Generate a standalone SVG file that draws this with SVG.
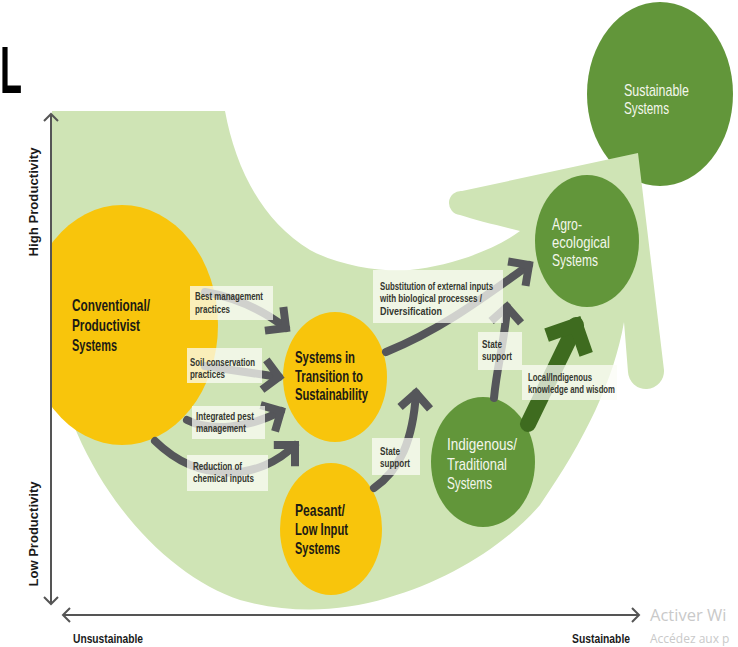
<svg xmlns="http://www.w3.org/2000/svg" width="738" height="647" viewBox="0 0 738 647">
<style>
.t{font-family:"Liberation Sans Narrow","Liberation Sans",Arial,sans-serif;}
.nd{font-size:17px;font-weight:bold;fill:#1c1a14;}
.nl{font-size:17px;font-weight:normal;fill:#f4f6ec;}
.lb{font-size:11.5px;font-weight:bold;fill:#34362f;}
.ax{font-size:13px;font-weight:bold;fill:#1a1a1a;}
.box{fill:#fbfcf5;opacity:0.74;}
.yel{fill:#f8c50c;}
.grn{fill:#62963a;}
.arr{fill:none;stroke:#55565a;stroke-width:8;stroke-linecap:round;}
.axl{fill:none;stroke:#555;stroke-width:2;}
.wm{font-family:"Open Sans","Noto Sans",sans-serif;fill:#c9c9c9;}
</style>
<defs>
<marker id="hd" viewBox="-24 -24 48 48" markerWidth="48" markerHeight="48" markerUnits="userSpaceOnUse" refX="0" refY="0" orient="auto" overflow="visible">
<path d="M-15,-15 L0,0 L-15,15" fill="none" stroke="#55565a" stroke-width="8"/>
</marker>
<marker id="hg" viewBox="-36 -36 72 72" markerWidth="72" markerHeight="72" markerUnits="userSpaceOnUse" refX="0" refY="0" orient="auto" overflow="visible">
<path d="M-22,-22 L0,0 L-22,22" fill="none" stroke="#3e6b1f" stroke-width="14"/>
</marker>
<marker id="ha" viewBox="-10 -10 20 20" markerWidth="20" markerHeight="20" markerUnits="userSpaceOnUse" refX="0" refY="0" orient="auto-start-reverse" overflow="visible">
<path d="M-7,-7 L0,0 L-7,7" fill="none" stroke="#555" stroke-width="2"/>
</marker>
<clipPath id="clipL"><rect x="52" y="0" width="700" height="647"/></clipPath>
</defs>
<rect width="738" height="647" fill="#ffffff"/>

<text class="t" x="0" y="93" font-size="67" font-weight="bold" fill="#000" textLength="22" lengthAdjust="spacingAndGlyphs">L</text>

<g id="sustainable">
<ellipse class="grn" cx="660" cy="94" rx="73" ry="92"/>
<text class="t nl" x="624" y="96" textLength="65" lengthAdjust="spacingAndGlyphs">Sustainable</text>
<text class="t nl" x="624" y="114" textLength="45" lengthAdjust="spacingAndGlyphs">Systems</text>
</g>

<g id="background">
<path fill="#cfe4b5" d="M52,111 L225,111 C235,165 260,220 310,250 C340,266 380,272 410,270 C450,266 495,250 520,231 C500,226 475,220 460,215 A12,12 0 0 1 462,191 L638,153 L664,370 A18,18 0 0 1 628,372 L624,322 C614,380 585,440 540,505 C505,545 450,580 387,598 C340,612 290,614 240,600 C180,580 115,520 77,433 C65,405 54,380 52,360 Z"/>
</g>

<g id="conventional">
<ellipse class="yel" cx="122" cy="325" rx="96" ry="120" clip-path="url(#clipL)"/>
<text class="t nd" x="72" y="311" textLength="78" lengthAdjust="spacingAndGlyphs">Conventional/</text>
<text class="t nd" x="72" y="331" textLength="68" lengthAdjust="spacingAndGlyphs">Productivist</text>
<text class="t nd" x="72" y="351" textLength="45" lengthAdjust="spacingAndGlyphs">Systems</text>
</g>

<g id="transition">
<ellipse class="yel" cx="335" cy="377" rx="52" ry="65"/>
<text class="t nd" x="295" y="363" textLength="60" lengthAdjust="spacingAndGlyphs">Systems in</text>
<text class="t nd" x="295" y="382" textLength="68" lengthAdjust="spacingAndGlyphs">Transition to</text>
<text class="t nd" x="295" y="400" textLength="73" lengthAdjust="spacingAndGlyphs">Sustainability</text>
</g>

<g id="peasant">
<ellipse class="yel" cx="331" cy="529" rx="51" ry="66"/>
<text class="t nd" x="295" y="516" textLength="50" lengthAdjust="spacingAndGlyphs">Peasant/</text>
<text class="t nd" x="295" y="535" textLength="53" lengthAdjust="spacingAndGlyphs">Low Input</text>
<text class="t nd" x="295" y="554" textLength="45" lengthAdjust="spacingAndGlyphs">Systems</text>
</g>

<g id="indigenous">
<ellipse class="grn" cx="483" cy="462" rx="52" ry="65"/>
<text class="t nl" x="447" y="450" textLength="70" lengthAdjust="spacingAndGlyphs">Indigenous/</text>
<text class="t nl" x="447" y="470" textLength="60" lengthAdjust="spacingAndGlyphs">Traditional</text>
<text class="t nl" x="447" y="489" textLength="45" lengthAdjust="spacingAndGlyphs">Systems</text>
</g>

<g id="agroecological">
<ellipse class="grn" cx="587" cy="241" rx="52" ry="66"/>
<text class="t nl" x="552" y="230" textLength="30" lengthAdjust="spacingAndGlyphs">Agro-</text>
<text class="t nl" x="552" y="248" textLength="58" lengthAdjust="spacingAndGlyphs">ecological</text>
<text class="t nl" x="552" y="266" textLength="46" lengthAdjust="spacingAndGlyphs">Systems</text>
</g>

<g id="connectors">
<path class="arr" d="M205,292 Q250,300 286,328" marker-end="url(#hd)"/>
<path class="arr" d="M205,366 Q245,372 279,377" marker-end="url(#hd)"/>
<path class="arr" d="M187,420 C210,432 250,428 281,411" marker-end="url(#hd)"/>
<path class="arr" d="M155,441 C200,485 260,480 295,445" marker-end="url(#hd)"/>
<path class="arr" d="M386,352 C440,330 480,300 529,265" marker-end="url(#hd)"/>
<path class="arr" d="M374,488 C400,470 413,440 416,393" marker-end="url(#hd)"/>
<path class="arr" d="M494,398 C497,365 505,340 507,307" marker-end="url(#hd)"/>
<path d="M528,424 L576,325" fill="none" stroke="#3e6b1f" stroke-width="16" stroke-linecap="round" marker-end="url(#hg)"/>
</g>

<g id="labels">
<g id="lbl-best"><rect class="box" x="190" y="286" width="83" height="34"/>
<text class="t lb" x="195" y="300" textLength="68" lengthAdjust="spacingAndGlyphs">Best management</text>
<text class="t lb" x="195" y="313" textLength="35" lengthAdjust="spacingAndGlyphs">practices</text></g>
<g id="lbl-soil"><rect class="box" x="187" y="348" width="75" height="35"/>
<text class="t lb" x="190" y="366" textLength="65" lengthAdjust="spacingAndGlyphs">Soil conservation</text>
<text class="t lb" x="190" y="378" textLength="35" lengthAdjust="spacingAndGlyphs">practices</text></g>
<g id="lbl-ipm"><rect class="box" x="192" y="406" width="73" height="33"/>
<text class="t lb" x="196" y="420" textLength="58" lengthAdjust="spacingAndGlyphs">Integrated pest</text>
<text class="t lb" x="196" y="432" textLength="50" lengthAdjust="spacingAndGlyphs">management</text></g>
<g id="lbl-red"><rect class="box" x="187" y="455" width="81" height="36"/>
<text class="t lb" x="193" y="470" textLength="49" lengthAdjust="spacingAndGlyphs">Reduction of</text>
<text class="t lb" x="193" y="482" textLength="61" lengthAdjust="spacingAndGlyphs">chemical inputs</text></g>
<g id="lbl-sub"><rect class="box" x="373" y="270" width="130" height="53"/>
<text class="t lb" x="380" y="290" textLength="113" lengthAdjust="spacingAndGlyphs">Substitution of external inputs</text>
<text class="t lb" x="380" y="302" textLength="102" lengthAdjust="spacingAndGlyphs">with biological processes /</text>
<text class="t lb" x="380" y="315" textLength="62" lengthAdjust="spacingAndGlyphs">Diversification</text></g>
<g id="lbl-state1"><rect class="box" x="372" y="438" width="48" height="37"/>
<text class="t lb" x="380" y="455" textLength="20" lengthAdjust="spacingAndGlyphs">State</text>
<text class="t lb" x="380" y="467" textLength="30" lengthAdjust="spacingAndGlyphs">support</text></g>
<g id="lbl-state2"><rect class="box" x="478" y="332" width="44" height="38"/>
<text class="t lb" x="482" y="348" textLength="20" lengthAdjust="spacingAndGlyphs">State</text>
<text class="t lb" x="482" y="360" textLength="30" lengthAdjust="spacingAndGlyphs">support</text></g>
<g id="lbl-local"><rect class="box" x="522" y="365" width="95" height="35"/>
<text class="t lb" x="528" y="381" textLength="64" lengthAdjust="spacingAndGlyphs">Local/Indigenous</text>
<text class="t lb" x="528" y="393" textLength="87" lengthAdjust="spacingAndGlyphs">knowledge and wisdom</text></g>
</g>

<g id="axes">
<path class="axl" d="M51,604 L51,114" marker-start="url(#ha)" marker-end="url(#ha)"/>
<path class="axl" d="M63,615 L639,615" marker-start="url(#ha)" marker-end="url(#ha)"/>
<text class="t ax" x="38" y="202" text-anchor="middle" transform="rotate(-90 38 202)" textLength="109" lengthAdjust="spacingAndGlyphs">High Productivity</text>
<text class="t ax" x="38" y="534" text-anchor="middle" transform="rotate(-90 38 534)" textLength="105" lengthAdjust="spacingAndGlyphs">Low Productivity</text>
<text class="t ax" x="73" y="643" textLength="70" lengthAdjust="spacingAndGlyphs">Unsustainable</text>
<text class="t ax" x="572" y="643" textLength="58" lengthAdjust="spacingAndGlyphs">Sustainable</text>
</g>

<text class="wm" x="650" y="621" font-size="16.5">Activer Wi</text>
<text class="wm" x="650" y="643" font-size="12">Accédez aux p</text>
</svg>
